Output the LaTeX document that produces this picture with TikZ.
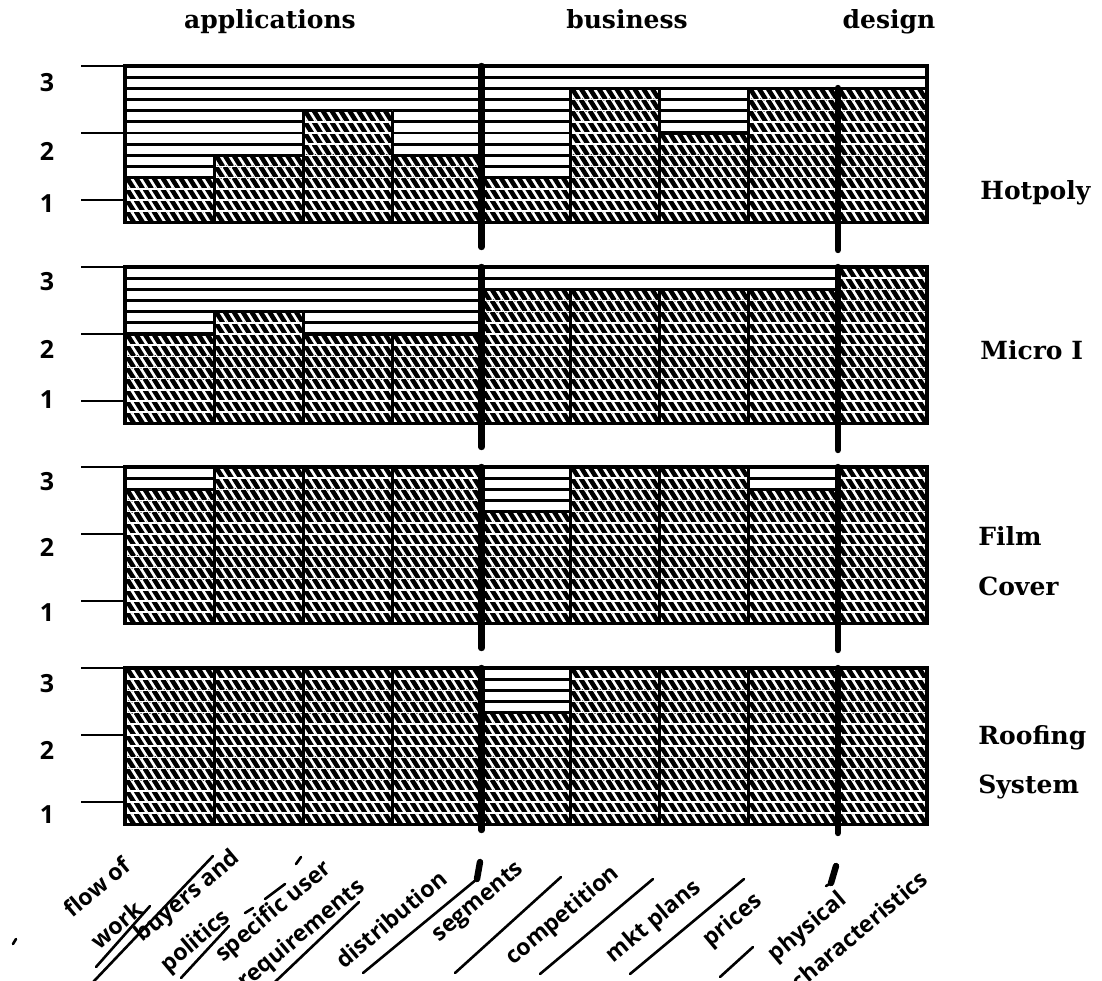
\documentclass[tikz,border=0pt]{standalone}
\usepackage{fontspec}
\newfontfamily\headfont{DejaVu Serif}
\newfontfamily\axisfont{Open Sans}

% geometry of the rating panels (units are pixels, y grows downwards)
\def\rh{11.1667}   % height of one hatch row (1/6 of a rating step)
\def\cw{89.1}      % width of one category column
\def\xl{125}       % left edge of the panels
\def\xr{926.9}     % right edge of the panels

% #1 = top of the panel, #2 = filled rows (0..14) of the nine columns
\newcommand{\ratingpanel}[2]{%
  \pgfmathsetmacro{\PT}{#1}%
  \pgfmathsetmacro{\PB}{#1+14*\rh}%
  % ruled background
  \foreach \r in {1,...,13}
    \draw[rowline] (\xl,{\PT+\r*\rh}) -- (\xr,{\PT+\r*\rh});
  % hatched bars
  \begin{scope}
    \clip \foreach \n [count=\c from 0] in {#2}
      {({\xl+\c*\cw},{\PB-\n*\rh}) rectangle ({\xl+(\c+1)*\cw},\PB)};
    \fill[white] (\xl,\PT) rectangle (\xr,\PB);
    \foreach \r in {0,...,13}
      \draw[hatchstroke] \foreach \i in {0,...,92}
        {({\xl-7+\i*8.9},{\PT+\r*\rh}) -- ++(7,\rh)};
    \foreach \r in {1,...,13}
      \draw[rowgap] (\xl,{\PT+\r*\rh}) -- (\xr,{\PT+\r*\rh});
  \end{scope}
  % bar tops and column rules
  \foreach \n [count=\c from 0, remember=\n as \np (initially 0)] in {#2} {
    \draw[bartop] ({\xl+\c*\cw},{\PB-\n*\rh}) -- ({\xl+(\c+1)*\cw},{\PB-\n*\rh});
    \pgfmathsetmacro{\mx}{max(\n,\np)}
    \draw[colrule] ({\xl+\c*\cw},\PB) -- ({\xl+\c*\cw},{\PB-\mx*\rh});
  }
  \draw[frame] (\xl,\PT) rectangle (\xr,\PB);
  % scale ticks 3, 2, 1
  \draw[tickline] (81,\PT) -- (\xr,\PT);
  \draw[tickline] (81,{\PT+6*\rh}) -- (\xl,{\PT+6*\rh});
  \draw[tickline] (81,{\PT+12*\rh}) -- (\xl,{\PT+12*\rh});
}

\begin{document}
\begin{tikzpicture}[x=0.5pt,y=-0.5pt,
  rowline/.style={line width=1.4pt},
  hatchstroke/.style={line width=2.3pt},
  rowgap/.style={white,line width=0.7pt},
  bartop/.style={line width=1.6pt},
  colrule/.style={line width=1.5pt},
  frame/.style={line width=1.6pt},
  divider/.style={line width=3.2pt,line cap=round},
  tickline/.style={line width=1.3pt},
  sepline/.style={line width=1.3pt,line cap=round},
  head/.style={font=\headfont\bfseries\fontsize{12.5}{15}\selectfont,inner sep=0pt},
  rowname/.style={head,anchor=west},
  ticklabel/.style={font=\axisfont\bfseries\fontsize{12.5}{14}\selectfont,inner sep=0pt},
  catlabel/.style={font=\axisfont\bfseries\fontsize{11.5}{13}\selectfont,inner sep=0pt,rotate=40},
]
\useasboundingbox[fill=white] (0,0) rectangle (1102,980);

% group headings
\node[head,anchor=base] (hApp) at (270,28) {applications};
\node[head,anchor=base] (hBus) at (627,28) {business};
\node[head,anchor=base] (hDes) at (889,28) {design};

% the four rating panels
\ratingpanel{66}{4,6,10,6,4,12,8,12,12}
\ratingpanel{267}{8,10,8,8,12,12,12,12,14}
\ratingpanel{467}{12,14,14,14,10,14,14,12,14}
\ratingpanel{668}{14,14,14,14,10,14,14,14,14}

% heavy rules between the groups
\draw[divider] (481.4,66) -- (481.4,247);
\draw[divider] (837.8,88) -- (837.8,250);
\draw[divider] (481.4,267) -- (481.4,447);
\draw[divider] (837.8,267) -- (837.8,450);
\draw[divider] (481.4,467) -- (481.4,648);
\draw[divider] (837.8,467) -- (837.8,650);
\draw[divider] (481.4,668) -- (481.4,830);
\draw[divider] (837.8,668) -- (837.8,833);

% scale numbers
\foreach \p/\a/\b/\c [count=\k] in {66/83/151/204, 267/282/349/400, 467/482/547/613, 668/684/750/815} {
  \node[ticklabel] (t\k-3) at (47,\a) {3};
  \node[ticklabel] (t\k-2) at (47,\b) {2};
  \node[ticklabel] (t\k-1) at (47,\c) {1};
}

% product names
\node[rowname] (pHot) at (980,193) {Hotpoly};
\node[rowname] (pMic) at (980,350) {Micro I};
\node[rowname] (pFil1) at (978,536) {Film};
\node[rowname] (pFil2) at (978,586) {Cover};
\node[rowname] (pRoo1) at (978,738) {Roofing};
\node[rowname] (pRoo2) at (978,787) {System};

% category labels
\node[catlabel] (c1a) at (97,887) {flow of};
\node[catlabel] (c1b) at (116,925) {work};
\node[catlabel] (c2a) at (188,897) {buyers and};
\node[catlabel] (c2b) at (196,942) {politics};
\node[catlabel] (c3a) at (274,912) {specific user};
\node[catlabel] (c3b) at (302,935) {requirements};
\node[catlabel] (c4) at (391,919) {distribution};
\node[catlabel] (c5) at (479,903) {segments};
\node[catlabel] (c6) at (563,916) {competition};
\node[catlabel] (c7) at (654,922) {mkt plans};
\node[catlabel] (c8) at (733,921) {prices};
\node[catlabel] (c9a) at (808,928) {physical};
\node[catlabel] (c9b) at (859,930) {characteristics};

% slanted rules between the category labels
\draw[sepline] (150,906) -- (96,967);
\draw[sepline] (213,856) -- (76,1000);
\draw[sepline] (229,926) -- (181,978);
\draw[sepline] (245,913) -- (253,908);
\draw[sepline] (265,899) -- (285,884);
\draw[sepline] (296,864) -- (301,857);
\draw[sepline] (359,902) -- (256,1000);
\draw[sepline] (363,973) -- (477,879);
\draw[divider] (477,879) -- (480,862);
\draw[sepline] (455,973) -- (561,877);
\draw[sepline] (540,974) -- (653,879);
\draw[sepline] (630,974) -- (744,879);
\draw[sepline] (720,977) -- (753,947);
\draw[divider] (836,866) -- (831,883);
\draw[sepline] (831,883) -- (826,886);
\draw[sepline] (16,939) -- (13,944);
\end{tikzpicture}
\end{document}
